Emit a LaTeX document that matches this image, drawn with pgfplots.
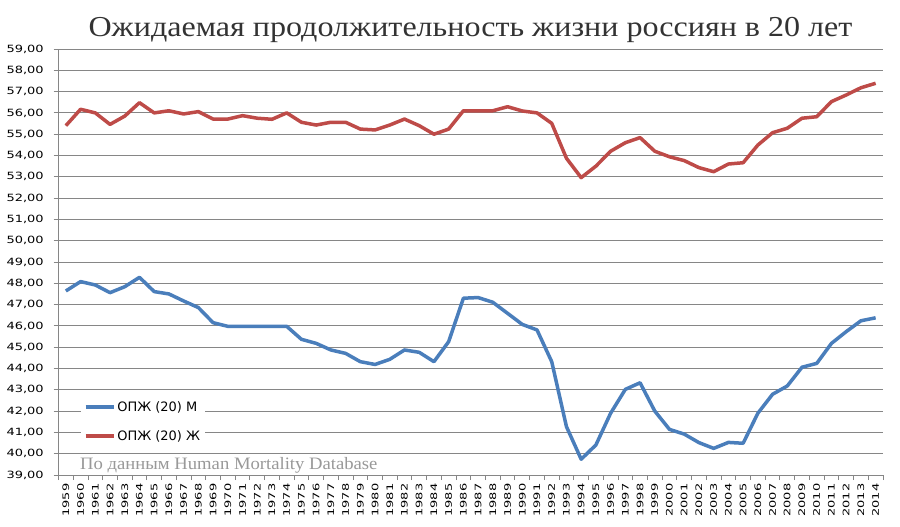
\documentclass[border=0pt]{standalone}
\usepackage{fontspec}
\setmainfont{DejaVu Sans}
\newfontfamily\serifru{Liberation Serif}
\usepackage{pgfplots}
\pgfplotsset{compat=1.18}
\usepackage{pgfplotstable}

\definecolor{opjm}{RGB}{74,126,187}
\definecolor{opjf}{RGB}{190,75,72}
\definecolor{gridc}{RGB}{134,134,134}

% ожидаемая продолжительность жизни в 20 лет, мужчины / женщины
\pgfplotstableread{
year  m      f
1959  47.64  55.40
1960  48.08  56.17
1961  47.92  56.00
1962  47.56  55.46
1963  47.84  55.85
1964  48.28  56.48
1965  47.61  56.00
1966  47.50  56.10
1967  47.17  55.95
1968  46.86  56.06
1969  46.15  55.71
1970  45.98  55.71
1971  45.98  55.87
1972  45.98  55.75
1973  45.98  55.70
1974  45.98  56.00
1975  45.37  55.56
1976  45.18  55.43
1977  44.87  55.56
1978  44.71  55.56
1979  44.32  55.24
1980  44.19  55.20
1981  44.43  55.43
1982  44.87  55.71
1983  44.76  55.40
1984  44.32  55.00
1985  45.26  55.24
1986  47.30  56.10
1987  47.33  56.10
1988  47.11  56.10
1989  46.59  56.29
1990  46.07  56.09
1991  45.81  56.00
1992  44.32  55.51
1993  41.27  53.87
1994  39.74  52.96
1995  40.41  53.50
1996  41.90  54.20
1997  43.02  54.60
1998  43.33  54.84
1999  42.00  54.20
2000  41.14  53.94
2001  40.92  53.76
2002  40.52  53.43
2003  40.25  53.24
2004  40.53  53.60
2005  40.49  53.66
2006  41.90  54.49
2007  42.79  55.07
2008  43.18  55.28
2009  44.06  55.75
2010  44.24  55.82
2011  45.18  56.53
2012  45.73  56.84
2013  46.24  57.18
2014  46.38  57.39
}\lifedata

\begin{document}
\begin{tikzpicture}
\useasboundingbox[fill=white] (0,0) rectangle (900bp,527bp);
\begin{axis}[
    at={(58.5bp,52bp)}, anchor=south west,
    width=824.5bp, height=426bp, scale only axis,
    xmin=1958.5, xmax=2014.5,
    ymin=39, ymax=59,
    xtick={1959,...,2014},
    minor xtick={1958.5,1959.5,...,2014.5},
    ytick={39,...,59},
    axis x line*=bottom, axis y line*=left,
    axis line style={gridc, line width=0.8bp},
    ymajorgrids,
    grid style={gridc, line width=0.8bp},
    tick align=outside,
    major tick length=5bp, minor tick length=5bp,
    major x tick style={draw=none},
    minor x tick style={gridc, line width=0.8bp},
    ytick style={gridc, line width=0.8bp},
    /pgf/number format/assume math mode=true,
    yticklabel style={font=\fontsize{10}{12}\selectfont, xscale=1.3, xshift=-4bp,
        /pgf/number format/.cd, fixed, fixed zerofill, precision=2, use comma},
    xticklabel={\scalebox{1.45}[1]{\pgfmathprintnumber[fixed, precision=0, 1000 sep={}]{\tick}}},
    xticklabel style={font=\fontsize{9}{11}\selectfont, rotate=90, anchor=east},
    legend style={at={(0.027,0.183)}, anchor=north west, draw=none, fill=white,
        font=\fontsize{13}{15}\selectfont, row sep=14bp},
    legend cell align=left,
    legend image code/.code={\draw[#1] (0bp,0bp) -- (28bp,0bp);},
]
\addplot[opjm, line width=3.5bp, line join=round] table[x=year, y=m] {\lifedata};
\addlegendentry{ОПЖ (20) М}
\addplot[opjf, line width=3.5bp, line join=round] table[x=year, y=f] {\lifedata};
\addlegendentry{ОПЖ (20) Ж}
\end{axis}
\node[anchor=base, xscale=1.11, font=\serifru\fontsize{29}{32}\selectfont, text=black!80]
    at (470.5bp,490bp) {Ожидаемая продолжительность жизни россиян в 20 лет};
\node[anchor=base west, inner sep=0pt, xscale=1.07, font=\serifru\fontsize{17.5}{20}\selectfont, text=black!40]
    at (80bp,57bp) {По данным Human Mortality Database};
\end{tikzpicture}
\end{document}
